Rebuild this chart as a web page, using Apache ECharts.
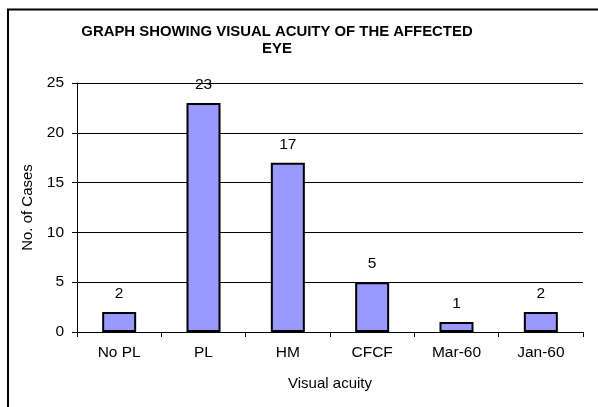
<!DOCTYPE html>
<html>
<head>
<meta charset="utf-8">
<script src="https://cdn.jsdelivr.net/npm/echarts@6/dist/echarts.min.js"></script>
<style>
  html, body { margin: 0; padding: 0; background: #fff; }
  #chart { width: 598px; height: 407px; }
</style>
</head>
<body>
<div id="chart"></div>
<script>
const categories = ['No PL', 'PL', 'HM', 'CFCF', 'Mar-60', 'Jan-60'];
const cases = [2, 23, 17, 5, 1, 2];
const yTicks = [0, 5, 10, 15, 20, 25];

const FONT = '"Liberation Sans", Arial, sans-serif';

const chart = echarts.init(document.getElementById('chart'));

chart.setOption({
  animation: false,
  textStyle: {fontFamily: FONT},
  // outer frame of the chart, cropped at right and bottom
  graphic: [{
    type: 'rect',
    shape: {x: 8, y: 9.5, width: 620, height: 420},
    style: {fill: 'none', stroke: '#000', lineWidth: 2}
  }],
  title: {
    text: 'GRAPH SHOWING VISUAL ACUITY OF THE AFFECTED\nEYE',
    left: 272,
    top: 18,
    textAlign: 'center',
    textStyle: {
      fontFamily: FONT,
      fontSize: 14.9,
      fontWeight: 'bold',
      color: '#000',
      lineHeight: 17
    }
  },
  grid: {left: 77, right: 15, top: 83, bottom: 75},
  xAxis: {
    type: 'category',
    data: categories,
    name: 'Visual acuity',
    nameLocation: 'middle',
    nameGap: 44,
    nameTextStyle: {fontSize: 15, color: '#000'},
    axisLine: {lineStyle: {color: '#000', width: 1}},
    axisTick: {show: true, length: 5, alignWithLabel: false, lineStyle: {color: '#000'}},
    axisLabel: {fontSize: 15.5, color: '#000', margin: 13}
  },
  yAxis: {
    type: 'value',
    min: yTicks[0],
    max: yTicks[yTicks.length - 1],
    interval: 5,
    name: 'No. of Cases',
    nameLocation: 'middle',
    nameGap: 42,
    nameTextStyle: {fontSize: 15, color: '#000'},
    axisLine: {show: true, lineStyle: {color: '#000', width: 1}},
    axisTick: {show: true, length: 5, lineStyle: {color: '#000'}},
    axisLabel: {fontSize: 15.5, color: '#000', margin: 13},
    splitLine: {lineStyle: {color: '#000', width: 1}}
  },
  series: [{
    type: 'bar',
    data: cases,
    barWidth: 34,
    itemStyle: {color: '#9999FF', borderColor: '#000', borderWidth: 2},
    label: {
      show: true,
      position: 'top',
      distance: 10,
      fontSize: 15.5,
      color: '#000',
      fontFamily: FONT
    }
  }]
});
</script>
</body>
</html>
